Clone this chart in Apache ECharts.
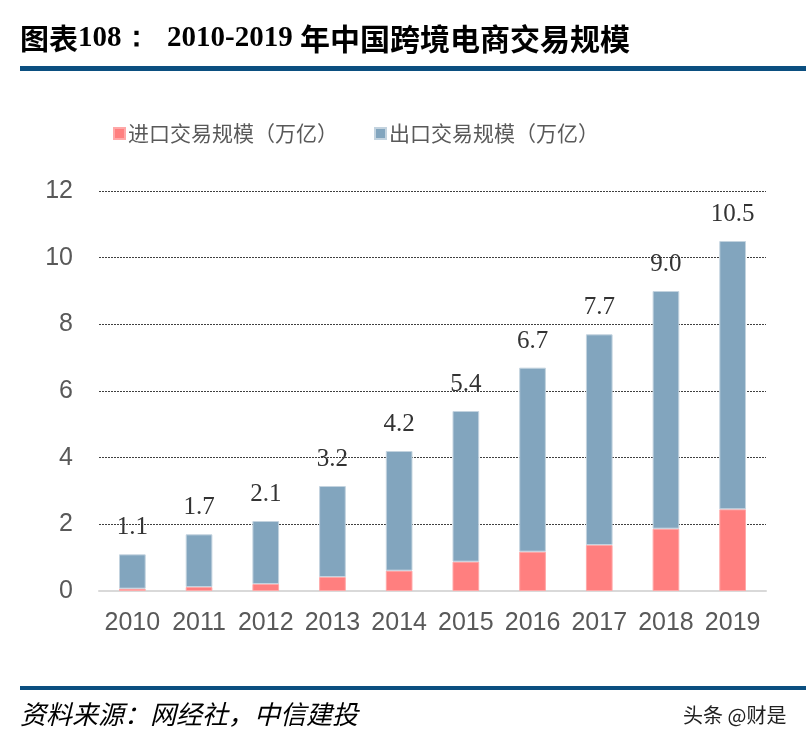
<!DOCTYPE html>
<html>
<head>
<meta charset="utf-8">
<script src="https://cdn.jsdelivr.net/npm/echarts@6/dist/echarts.min.js"></script>
<style>
html,body{margin:0;padding:0;background:#fff;}
#chart{width:806px;height:751px;}
</style>
</head>
<body>
<div id="chart"></div>
<script>
const categories = ['2010','2011','2012','2013','2014','2015','2016','2017','2018','2019'];
const importValues = [0.07, 0.12, 0.21, 0.42, 0.61, 0.88, 1.18, 1.38, 1.87, 2.45];
const exportValues = [1.03, 1.58, 1.89, 2.73, 3.59, 4.52, 5.52, 6.32, 7.13, 8.05];
const totalLabels = ['1.1','1.7','2.1','3.2','4.2','5.4','6.7','7.7','9.0','10.5'];
const yTicks = { min: 0, max: 12, interval: 2 };

const CJK = '"Noto Sans CJK SC", sans-serif';
const SERIF = '"Liberation Serif", "Times New Roman", serif';
const SANS = '"Liberation Sans", Arial, sans-serif';

const chart = echarts.init(document.getElementById('chart'), null, {renderer: 'canvas'});
chart.setOption({
  backgroundColor: '#ffffff',
  animation: false,
  grid: { left: 99, right: 40, top: 191, bottom: 160, containLabel: false },
  legend: {
    top: 118, left: 108,
    itemWidth: 11, itemHeight: 11, itemGap: 36,
    icon: 'rect',
    textStyle: { fontFamily: CJK, fontSize: 21, color: '#595959', padding: [0,0,0,-2] },
    data: ['进口交易规模（万亿）', '出口交易规模（万亿）']
  },
  xAxis: {
    type: 'category',
    data: categories,
    axisLine: { show: true, lineStyle: { color: '#d9d9d9', width: 2 } },
    axisTick: { show: false },
    axisLabel: { interval: 0, fontFamily: SANS, fontSize: 25, color: '#595959', margin: 20 }
  },
  yAxis: {
    type: 'value',
    min: yTicks.min, max: yTicks.max, interval: yTicks.interval,
    axisLine: { show: false },
    axisTick: { show: false },
    axisLabel: { fontFamily: SANS, fontSize: 25, color: '#595959', margin: 26 },
    splitLine: { show: true, lineStyle: { color: '#404040', width: 1, type: [2, 1] } }
  },
  series: [
    {
      name: '进口交易规模（万亿）',
      type: 'bar', stack: 'total',
      barWidth: '40%',
      data: importValues,
      itemStyle: { color: '#FF7F7F', borderColor: '#FFA8A8', borderWidth: 1 }
    },
    {
      name: '出口交易规模（万亿）',
      type: 'bar', stack: 'total',
      barWidth: '40%',
      data: exportValues,
      itemStyle: { color: '#82A5BE', borderColor: '#C3D3DF', borderWidth: 1 },
      label: {
        show: true, position: 'top', distance: 14,
        fontFamily: SERIF, fontSize: 25, color: '#333333',
        formatter: p => totalLabels[p.dataIndex]
      }
    }
  ],
  graphic: [
    {
      type: 'text', left: 20, top: 24,
      style: {
        rich: {
          c: { fontFamily: CJK, fontWeight: 'bold', fontSize: 29, fill: '#000' },
          n: { fontFamily: SERIF, fontWeight: 'bold', fontSize: 29, fill: '#000' }
        },
        text: '{c|图表}{n|108：}'
      }
    },
    {
      type: 'text', left: 167, top: 24,
      style: {
        rich: {
          c: { fontFamily: CJK, fontWeight: 'bold', fontSize: 30, fill: '#000' },
          n: { fontFamily: SERIF, fontWeight: 'bold', fontSize: 29, fill: '#000' }
        },
        text: '{n|2010-2019 }{c|年中国跨境电商交易规模}'
      }
    },
    { type: 'rect', shape: { x: 20, y: 66, width: 786, height: 5 }, style: { fill: '#0B4F80' } },
    { type: 'rect', shape: { x: 20, y: 686, width: 786, height: 4 }, style: { fill: '#0B4F80' } },
    {
      type: 'text', left: 20, top: 701,
      style: { text: '资料来源：网经社，中信建投', fontFamily: CJK, fontStyle: 'italic', fontSize: 26, fill: '#000' }
    },
    {
      type: 'text', left: 683, top: 705,
      style: { text: '头条 @财是', fontFamily: CJK, fontSize: 20, fill: '#222' }
    }
  ]
});
</script>
</body>
</html>
